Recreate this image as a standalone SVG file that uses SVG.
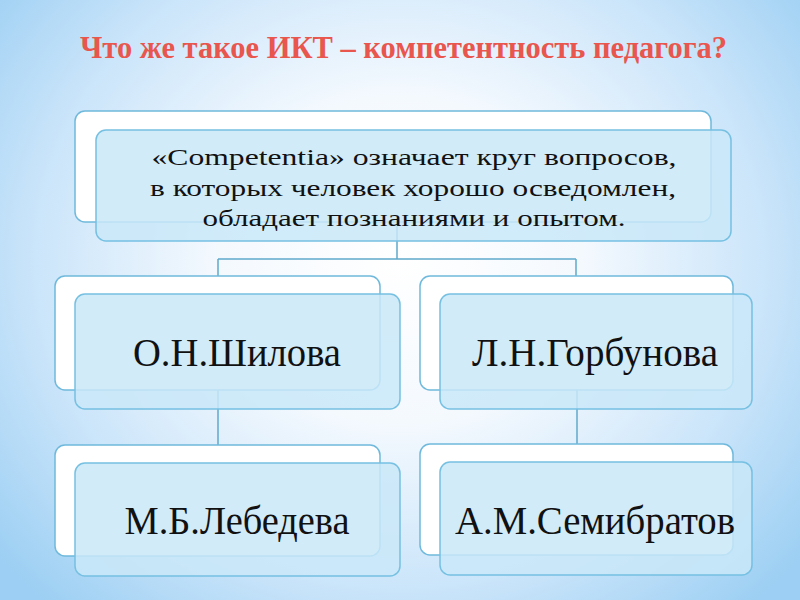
<svg xmlns="http://www.w3.org/2000/svg" width="800" height="600" viewBox="0 0 800 600">
<defs>
<radialGradient id="bg" cx="400" cy="260" r="520" gradientUnits="userSpaceOnUse" gradientTransform="translate(400 260) scale(1 0.9) translate(-400 -260)">
<stop offset="0" stop-color="#ffffff"/>
<stop offset="0.35" stop-color="#f4f9fe"/>
<stop offset="0.7" stop-color="#cbe5fa"/>
<stop offset="1" stop-color="#9ccff3"/>
</radialGradient>
</defs>
<style>
.back{fill:#ffffff;stroke:#6fb9dc;stroke-width:1.5}
.front{fill:#c9e7f8;fill-opacity:0.85;stroke:#76c0e2;stroke-width:1.5}
.conn{fill:none;stroke:#5fa9cc;stroke-width:1.5}
.t{font-family:"Liberation Serif","Times New Roman",serif;fill:#111111;text-anchor:middle}
.name{font-size:40px}
.desc{font-size:24px}
.title{font-family:"Liberation Serif","Times New Roman",serif;font-weight:bold;font-size:31px;fill:#e8564e}
</style>
<rect width="800" height="600" fill="url(#bg)"/>
<text class="title" x="80" y="58" textLength="647" lengthAdjust="spacingAndGlyphs">Что же такое ИКТ – компетентность педагога?</text>
<g id="connectors">
<path class="conn" d="M397 222 V259 M218 259 H576 M218 259 V276 M576 259 V276"/>
<path class="conn" d="M218 390 V446"/>
<path class="conn" d="M577 390 V446"/>
</g>
<g id="node-top">
<rect class="back" x="75" y="111" width="636" height="111" rx="10"/>
<rect class="front" x="96" y="130" width="635" height="111" rx="10"/>
<text class="t desc" x="414" y="165" textLength="525" lengthAdjust="spacingAndGlyphs">«Competentia»  означает круг вопросов,</text>
<text class="t desc" x="413" y="196" textLength="526" lengthAdjust="spacingAndGlyphs">в которых человек хорошо осведомлен,</text>
<text class="t desc" x="414" y="226" textLength="423" lengthAdjust="spacingAndGlyphs">обладает познаниями и опытом.</text>
</g>
<g id="node-shilova">
<rect class="back" x="55" y="276" width="325" height="114" rx="10"/>
<rect class="front" x="75" y="294" width="325" height="115" rx="10"/>
<text class="t name" x="237" y="366" textLength="208" lengthAdjust="spacingAndGlyphs">О.Н.Шилова</text>
</g>
<g id="node-gorbunova">
<rect class="back" x="420" y="276" width="313" height="114" rx="10"/>
<rect class="front" x="440" y="294" width="312" height="115" rx="10"/>
<text class="t name" x="595" y="366" textLength="246" lengthAdjust="spacingAndGlyphs">Л.Н.Горбунова</text>
</g>
<g id="node-lebedeva">
<rect class="back" x="55" y="445" width="325" height="111" rx="10"/>
<rect class="front" x="75" y="463" width="325" height="113" rx="10"/>
<text class="t name" x="237" y="534" textLength="225" lengthAdjust="spacingAndGlyphs">М.Б.Лебедева</text>
</g>
<g id="node-semibratov">
<rect class="back" x="420" y="444" width="313" height="111" rx="10"/>
<rect class="front" x="440" y="462" width="312" height="113" rx="10"/>
<text class="t name" x="595" y="534" textLength="280" lengthAdjust="spacingAndGlyphs">А.М.Семибратов</text>
</g>
</svg>
